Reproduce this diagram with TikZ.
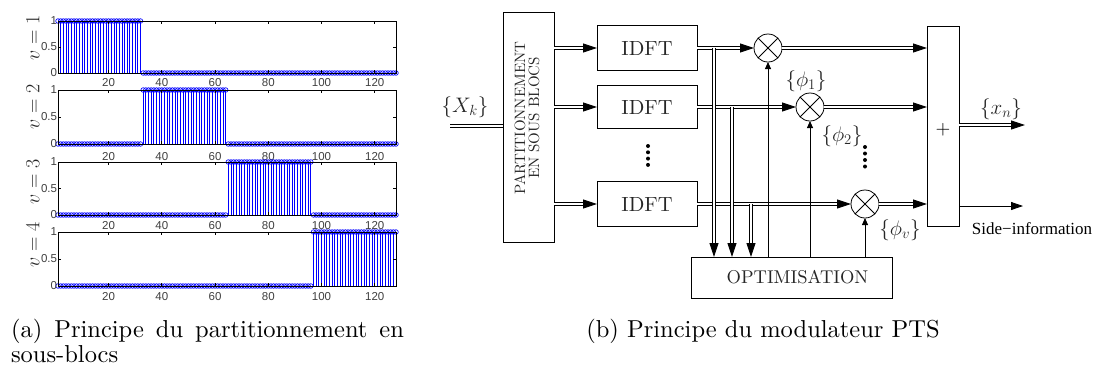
\RequirePackage{fix-cm}
\documentclass[tikz,border=0pt]{standalone}
\usepackage{fontspec}
\setmainfont{lmroman10-regular}[Extension=.otf, ItalicFont=lmroman10-italic, BoldFont=lmroman10-bold]
\usetikzlibrary{arrows.meta}
\newfontfamily\helvfont{Liberation Sans}
\newfontfamily\timesfont{Liberation Serif}
\begin{document}
\begin{tikzpicture}[x=1pt,y=-1pt,
  every node/.style={inner sep=0pt, outer sep=0pt},
  box/.style={draw, line width=0.8pt, inner sep=0pt},
  dbl/.style={double, double distance=1.8pt, line width=0.85pt},
  bigtip/.style={-{Triangle[length=14pt,width=9pt]}},
  smalltip/.style={-{Triangle[length=7pt,width=6pt]}},
  thinline/.style={line width=0.8pt},
  mult/.style={circle, draw, line width=0.8pt, minimum size=28pt, inner sep=0pt,
    path picture={\draw[line width=0.8pt] (path picture bounding box.north west) -- (path picture bounding box.south east)
      (path picture bounding box.north east) -- (path picture bounding box.south west);}},
  stemline/.style={blue, line width=0.75pt},
  mk/.style={blue, line width=0.65pt},
  axisbox/.style={draw, line width=0.9pt},
  ticklab/.style={font=\helvfont\fontsize{11.5}{12}\selectfont, text=black!75},
  lab/.style={font=\fontsize{21}{24}\selectfont, text=black!85},
  capt/.style={font=\fontsize{24.5}{30}\selectfont},
]
\useasboundingbox (0,0) rectangle (1093,365);

% ---------------- left: four stem plots ----------------
\foreach \T/\B/\a/\b/\ly/\tl [count=\s] in {21/73/1/32/38/83, 90/144/33/64/107/157, 162/215/65/96/182/226, 232/286/97/128/245/297}{
  \foreach \n in {1,...,128}{
    \pgfmathsetmacro\xx{58+(\n-1)*2.661417}
    \ifnum\n<\a\relax
      \draw[mk] (\xx,\B) circle[radius=2.3];
    \else\ifnum\n>\b\relax
      \draw[mk] (\xx,\B) circle[radius=2.3];
    \else
      \draw[stemline] (\xx,\B) -- (\xx,\T);
      \draw[mk] (\xx,\T) circle[radius=2.3];
    \fi\fi
  }
  \draw[axisbox] (58,\T) rectangle (396,\B);
  \pgfmathsetmacro\mid{(\T+\B)/2}
  \foreach \k in {20,40,...,120}{
    \pgfmathsetmacro\tx{58+(\k-1)*2.661417}
    \draw[line width=0.6pt] (\tx,\T) -- ++(0,3);
    \draw[line width=0.6pt] (\tx,\B) -- ++(0,-3);
    \node[ticklab] (xt\s-\k) at (\tx,\tl) {\k};
  }
  \draw[line width=0.6pt] (58,\mid) -- ++(3,0);
  \draw[line width=0.6pt] (396,\mid) -- ++(-3,0);
  \node[ticklab, anchor=east] (y0-\s) at (57,\B) {0};
  \node[ticklab, anchor=east] (y5-\s) at (57,\mid) {0.5};
  \node[ticklab, anchor=east] (y1-\s) at (57,\T) {1};
  \node[rotate=90, font=\fontsize{20}{24}\selectfont, text=black!85] (yl\s) at (33,\ly) {$v=\s$};
}

% ---------------- right: PTS modulator ----------------
\node[box, minimum width=51pt, minimum height=230pt] (part) at (528.5,127) {};
\node[rotate=90, align=center, font=\fontsize{15}{14}\selectfont, text=black!85] (parttxt) at (527,118) {PARTITIONNEMENT\\EN SOUS BLOCS};

\node[box, minimum width=100pt, minimum height=45pt, lab, font=\fontsize{20.5}{24}\selectfont] (idft1) at (647,48) {IDFT};
\node[box, minimum width=100pt, minimum height=43pt, lab, font=\fontsize{20.5}{24}\selectfont] (idft2) at (647,107) {IDFT};
\node[box, minimum width=100pt, minimum height=45pt, lab, font=\fontsize{20.5}{24}\selectfont] (idft3) at (647,204) {IDFT};

\node[mult] (m1) at (768,48) {};
\node[mult] (m2) at (810,107) {};
\node[mult] (m3) at (865,204) {};

\node[box, minimum width=32pt, minimum height=200pt] (sum) at (943,126) {};
\node[font=\fontsize{19}{19}\selectfont] (plus) at (943,130) {+};
\node[box, minimum width=201pt, minimum height=41pt, font=\fontsize{18.5}{18}\selectfont, text=black!85] (opt) at (791.5,277.5) {\hspace*{12pt}OPTIMISATION};

% input
\coordinate (xin) at (450,126);
\node[lab] (xk) at (465,107) {$\{X_k\}$};
\draw[dbl] (xin) -- (xin -| part.west);

% partition -> IDFT
\draw[dbl, bigtip] (part.east |- idft1.west) -- (idft1.west);
\draw[dbl, bigtip] (part.east |- idft2.west) -- (idft2.west);
\draw[dbl, bigtip] (part.east |- idft3.west) -- (idft3.west);

% IDFT -> multipliers
\draw[dbl, bigtip] (idft1.east) -- (m1.west);
\draw[dbl, bigtip] (idft2.east) -- (m2.west);
\draw[dbl, bigtip] (idft3.east) -- (m3.west);

% taps to optimisation
\coordinate (t1) at (714,48);
\coordinate (t2) at (732,107);
\coordinate (t3) at (751,204);
\draw[dbl, bigtip] (t1) -- (t1 |- opt.north);
\draw[dbl, bigtip] (t2) -- (t2 |- opt.north);
\draw[dbl, bigtip] (t3) -- (t3 |- opt.north);

% optimisation -> multipliers
\draw[thinline, smalltip] (opt.north -| m1.south) -- (m1.south);
\draw[thinline, smalltip] (opt.north -| m2.south) -- (m2.south);
\draw[thinline, smalltip] (opt.north -| m3.south) -- (m3.south);

% multipliers -> sum
\draw[dbl, bigtip] (m1.east) -- (m1.east -| sum.west);
\draw[dbl, bigtip] (m2.east) -- (m2.east -| sum.west);
\draw[dbl, bigtip] (m3.east) -- (m3.east -| sum.west);

% outputs
\coordinate (xout) at (1025,125);
\coordinate (sout) at (1023,206);
\draw[dbl, bigtip] (sum.east |- xout) -- (xout);
\draw[thinline, -{Triangle[length=12pt,width=8pt]}] (sum.east |- sout) -- (sout);
\node[lab] (xn) at (1001,109) {$\{x_n\}$};
\node[font=\timesfont\fontsize{17}{18}\selectfont] (side) at (1032,229) {Side\textminus information};

% phase labels
\node[lab] (p1) at (806,81) {$\{\phi_1\}$};
\node[lab] (p2) at (842,136) {$\{\phi_2\}$};
\node[lab] (pv) at (900,230) {$\{\phi_v\}$};

% dots
\foreach \i in {0,...,3}{
  \fill (648,146+\i*6.3) circle[radius=2];
  \fill (865,147+\i*6.5) circle[radius=2];
}

% captions
\node[anchor=base west, capt] (capa1) at (11,337) {\makebox[393pt][s]{(a) Principe du partitionnement en}};
\node[anchor=base west, capt] (capa2) at (11,362) {sous-blocs};
\node[anchor=base, capt] (capb) at (763,337) {(b) Principe du modulateur PTS};
\end{tikzpicture}
\end{document}
